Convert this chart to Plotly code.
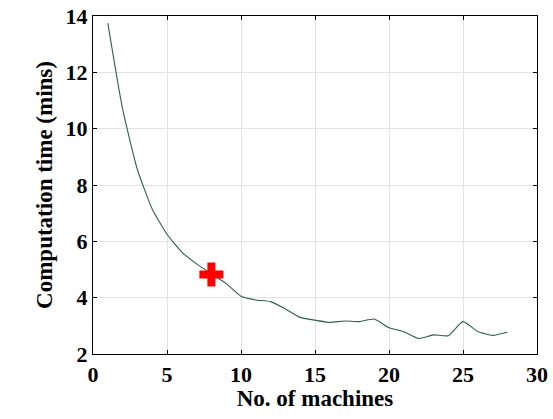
import plotly.graph_objects as go

machines = list(range(1, 29))
comp_time = [13.75, 10.7, 8.55, 7.15, 6.25, 5.62, 5.2, 4.85, 4.5, 4.05,
             3.92, 3.86, 3.6, 3.3, 3.2, 3.12, 3.17, 3.15, 3.24, 2.93,
             2.79, 2.55, 2.68, 2.65, 3.15, 2.8, 2.66, 2.77]
best_x = [8]
best_y = [4.82]
x_ticks = [0, 5, 10, 15, 20, 25, 30]
y_ticks = [2, 4, 6, 8, 10, 12, 14]

font_family = "Liberation Serif"

fig = go.Figure()
fig.add_trace(go.Scatter(x=machines, y=comp_time, mode="lines",
                         line=dict(color="#2f5f52", width=1.1, shape="spline", smoothing=0.5),
                         showlegend=False))
fig.add_trace(go.Scatter(x=best_x, y=best_y, mode="markers",
                         marker=dict(symbol="cross", size=20, color="#ff0000",
                                     line=dict(width=0)),
                         showlegend=False))

axis_common = dict(showline=True, linecolor="black", linewidth=1.2, mirror="allticks",
                   ticks="inside", ticklen=4, tickcolor="black",
                   showgrid=True, gridcolor="#e3e3e3", gridwidth=1, zeroline=False,
                   automargin=False, ticklabeloverflow="allow",
                   tickfont=dict(family=font_family, size=22, color="black", weight="bold"))

fig.update_xaxes(range=[0, 30], tickvals=x_ticks,
                 title=dict(text="No. of machines", standoff=3,
                            font=dict(family=font_family, size=23, color="black", weight="bold")),
                 **axis_common)
fig.update_yaxes(range=[2, 14], tickvals=y_ticks,
                 title=dict(text="Computation time (mins)", standoff=6,
                            font=dict(family=font_family, size=23, color="black", weight="bold")),
                 **axis_common)

fig.update_layout(width=553, height=419,
                  margin=dict(l=93, r=16, t=16, b=65),
                  paper_bgcolor="white", plot_bgcolor="white",
                  font=dict(family=font_family, color="black"))

fig.write_html("out.html", config={"displayModeBar": False},
               post_script="document.body.style.margin='0';")
